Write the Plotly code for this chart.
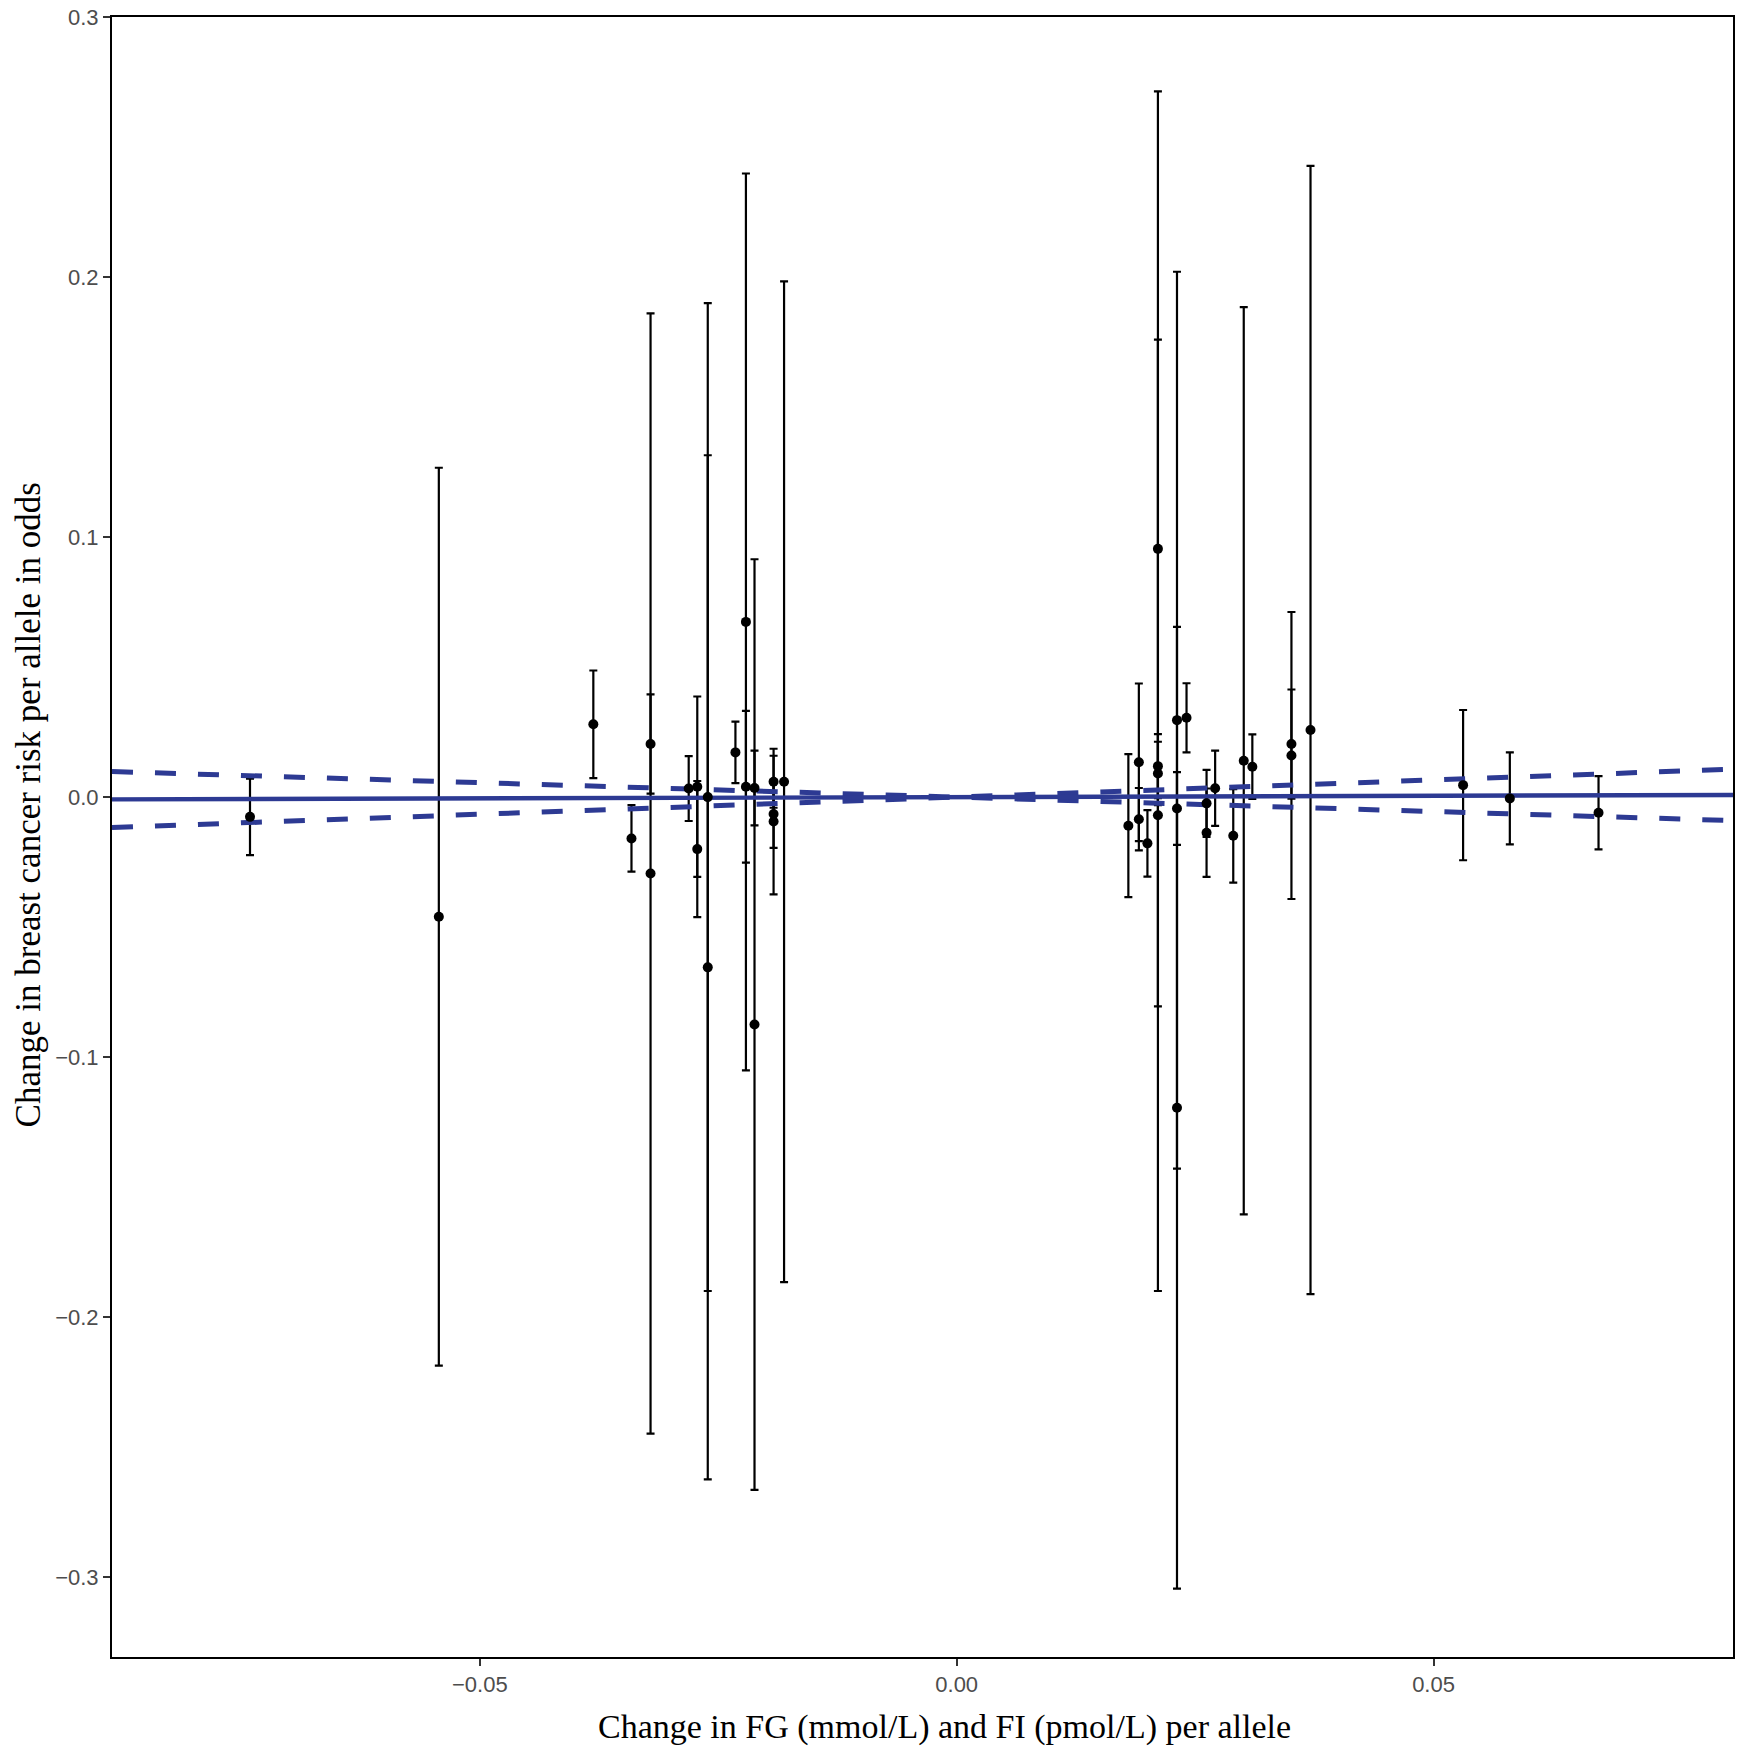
import plotly.graph_objects as go

# SNP effects on exposure (FG / FI) and on breast cancer odds
snp_exposure = [
    -0.0741, -0.0543, -0.0381, -0.0341, -0.0321, -0.0321, -0.0281, -0.0272,
    -0.0272, -0.0261, -0.0261, -0.0232, -0.0221, -0.0221, -0.0212, -0.0212,
    -0.0192, -0.0192, -0.0192, -0.0181,
    0.0180, 0.0191, 0.0191, 0.0200, 0.0211, 0.0211, 0.0211, 0.0211,
    0.0231, 0.0231, 0.0231, 0.0241, 0.0262, 0.0262, 0.0271, 0.0290,
    0.0301, 0.0310, 0.0351, 0.0351, 0.0371, 0.0531, 0.0580, 0.0673,
]
snp_outcome = [
    -0.0076, -0.0460, 0.0280, -0.0159, 0.0204, -0.0294, 0.0033, 0.0040,
    -0.0200, 0.0000, -0.0655, 0.0172, 0.0674, 0.0040, 0.0035, -0.0875,
    0.0059, -0.0065, -0.0094, 0.0059,
    -0.0110, 0.0134, -0.0085, -0.0178, 0.0955, -0.0070, 0.0119, 0.0091,
    0.0296, -0.0044, -0.1195, 0.0305, -0.0024, -0.0137, 0.0034, -0.0149,
    0.0140, 0.0117, 0.0204, 0.0160, 0.0258, 0.0046, -0.0005, -0.0060,
]
# half width of the 95% CI on the outcome
snp_outcome_ci = [
    0.0147, 0.1727, 0.0207, 0.0128, 0.0191, 0.2155, 0.0125, 0.0347,
    0.0262, 0.1900, 0.1970, 0.0118, 0.1725, 0.0292, 0.0144, 0.1790,
    0.0100, 0.0130, 0.0280, 0.1925,
    0.0275, 0.0303, 0.0120, 0.0128, 0.1760, 0.1830, 0.0123, 0.0122,
    0.1725, 0.0140, 0.1850, 0.0133, 0.0129, 0.0170, 0.0145, 0.0180,
    0.1745, 0.0124, 0.0210, 0.0552, 0.2170, 0.0289, 0.0177, 0.0141,
]

# IVW slope and its CI bounds
ivw_slope = 0.010
ivw_slope_lo = -0.111
ivw_slope_hi = 0.132

x_range = [-0.08857, 0.0814]
y_range = [-0.3308, 0.3001]

blue = "#2D3A93"
serif = "Liberation Serif, Times New Roman, serif"

fig = go.Figure()

# error bars underneath
fig.add_trace(go.Scatter(
    x=snp_exposure, y=snp_outcome, mode="markers",
    marker=dict(size=1, color="rgba(0,0,0,0)"),
    error_y=dict(type="data", array=snp_outcome_ci, visible=True,
                 color="black", thickness=2.2, width=4),
    showlegend=False, hoverinfo="skip",
))

# regression line and CI lines over the full panel
for s, dash in [(ivw_slope_lo, "21px,22px"), (ivw_slope_hi, "21px,22px"), (ivw_slope, "solid")]:
    fig.add_trace(go.Scatter(
        x=x_range, y=[s * v for v in x_range], mode="lines",
        line=dict(color=blue, width=5 if dash != "solid" else 4.4, dash=dash),
        showlegend=False, hoverinfo="skip",
    ))

# points on top
fig.add_trace(go.Scatter(
    x=snp_exposure, y=snp_outcome, mode="markers",
    marker=dict(size=10, color="black"),
    showlegend=False,
))

axis_common = dict(
    showgrid=False, zeroline=False,
    showline=True, linecolor="black", linewidth=2, mirror=True,
    ticks="outside", ticklen=7, tickwidth=2, tickcolor="#333333",
    ticklabeloverflow="allow",
    tickfont=dict(family="Liberation Sans, Arial, sans-serif", size=22, color="#4D4D4D"),
)

fig.update_xaxes(range=x_range, tickvals=[-0.05, 0.0, 0.05], tickformat=".2f", **axis_common)
fig.update_yaxes(range=y_range, tickvals=[-0.3, -0.2, -0.1, 0.0, 0.1, 0.2, 0.3],
                 tickformat=".1f", **axis_common)

# axis titles placed as in the original
fig.add_annotation(
    text="Change in FG (mmol/L) and FI (pmol/L) per allele",
    xref="paper", yref="paper", x=0.5134, y=-0.0427,
    xanchor="center", yanchor="middle", showarrow=False,
    font=dict(family=serif, size=34, color="black"),
)
fig.add_annotation(
    text="Change in breast cancer risk per allele in odds",
    xref="paper", yref="paper", x=-0.0516, y=0.5195, textangle=-90,
    xanchor="center", yanchor="middle", showarrow=False,
    font=dict(family=serif, size=35, color="black"),
)

fig.update_layout(
    width=1750, height=1750,
    margin=dict(l=112, r=17, t=17, b=93, autoexpand=False),
    plot_bgcolor="white", paper_bgcolor="white",
)

# drop the page's default body margin so the figure sits at the window corner
fig.write_html("out.html", config={"displayModeBar": False},
               post_script="document.body.style.margin='0';")
